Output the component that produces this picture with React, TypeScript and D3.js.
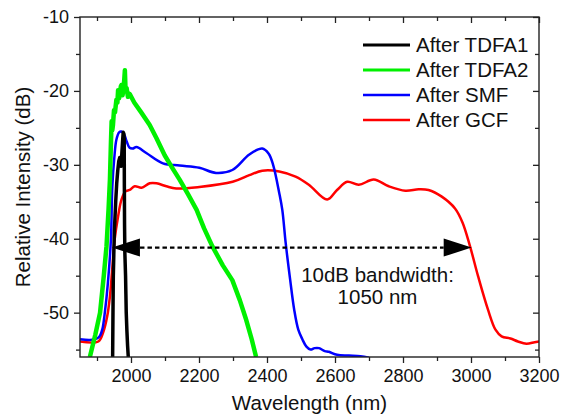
import React, { useRef, useEffect } from "react";
import * as d3 from "d3";

// wavelength (nm), relative intensity (dB)
const tdfa1: [number, number][] = [
  [1946, -56], [1947, -50], [1948, -45], [1951, -39], [1955, -35], [1958, -32.5],
  [1961, -30.8], [1964, -29.5], [1967, -29], [1969, -29.6], [1971, -30.2], [1973, -28.5],
  [1975, -27], [1977, -25.6], [1979, -25.8], [1980, -26.5], [1980.5, -33], [1981, -38],
  [1982, -42], [1984, -45], [1985, -47.5], [1986, -50], [1988, -52.5], [1990, -54.5], [1992, -56],
];

const tdfa2: [number, number][] = [
  [1879, -56], [1895, -53], [1909, -50], [1920, -45], [1928, -41], [1934, -36],
  [1938, -32], [1941, -27], [1943, -24.1], [1945, -25.3], [1947, -24.6], [1950, -22.6],
  [1953, -22.9], [1957, -21.2], [1960, -21.6], [1962, -19.9], [1965, -21], [1967, -20.5],
  [1970, -19.4], [1972, -19.2], [1975, -20.6], [1977, -20.1], [1980, -18.6], [1982, -17.2],
  [1984, -19.9], [1987, -19.6], [1991, -20.8], [1996, -20.4], [2010, -21.6], [2030, -22.9],
  [2055, -24.6], [2075, -26.4], [2099, -28.7], [2120, -30.3], [2143, -32.0], [2168, -34.0],
  [2193, -36.1], [2215, -38.6], [2239, -41.0], [2270, -43.6], [2298, -45.6], [2320, -48.3],
  [2339, -51], [2355, -53.6], [2368, -56],
];

const smf: [number, number][] = [
  [1850, -53.6], [1880, -53.7], [1900, -53.5], [1909, -53.1], [1916, -52.2], [1923, -50],
  [1932, -46], [1941, -40], [1945, -33], [1951, -29], [1957, -26.6], [1965, -25.6],
  [1972, -25.5], [1980, -25.9], [1987, -26.8], [1996, -27.7], [2005, -27.8], [2016, -27.6],
  [2045, -28.4], [2094, -29.8], [2143, -30.1], [2201, -30.4], [2250, -31.1], [2298, -30.7],
  [2348, -28.6], [2386, -27.8], [2405, -28.5], [2418, -30], [2436, -33.8], [2445, -36.1],
  [2455, -40.6], [2468, -45.5], [2480, -49.6], [2492, -52.3], [2504, -53.6], [2516, -54.6],
  [2528, -55.0], [2540, -54.8], [2553, -54.8], [2570, -55.2], [2582, -55.3], [2606, -55.7],
  [2641, -55.8], [2675, -55.9], [2700, -56.1],
];

const gcf: [number, number][] = [
  [1850, -53.9], [1904, -53.9], [1918, -52.7], [1930, -50.5], [1938, -47.8], [1945, -44],
  [1952, -40.1], [1962, -37], [1972, -34.7], [1984, -33.6], [1996, -33.4], [2011, -32.9],
  [2031, -33.1], [2055, -32.5], [2075, -32.5], [2104, -32.9], [2133, -33.2], [2201, -33.0],
  [2299, -32.3], [2348, -31.4], [2386, -30.8], [2436, -30.9], [2484, -31.6], [2523, -32.7],
  [2577, -34.7], [2606, -33.4], [2636, -32.3], [2670, -32.7], [2714, -32.0], [2758, -32.9],
  [2807, -33.5], [2846, -33.3], [2875, -33.4], [2914, -34.3], [2953, -35.9], [2975, -37.8],
  [2997, -41.0], [3021, -45.1], [3050, -49.6], [3072, -52.3], [3090, -53.2], [3116, -53.5],
  [3138, -53.9], [3163, -54.2], [3187, -54.0], [3200, -53.9],
];

const seriesNames = ["After TDFA1", "After TDFA2", "After SMF", "After GCF"];
const seriesColors = ["#000000", "#00f000", "#0000ff", "#ff0000"];

const xMajor = [2000, 2200, 2400, 2600, 2800, 3000, 3200];
const xMinor = [1900, 2100, 2300, 2500, 2700, 2900, 3100];
const yMajor = [-10, -20, -30, -40, -50];
const yMinor = [-15, -25, -35, -45, -55];

const bandwidth = { from: 1944, to: 3002, level: -41.2 };

function App() {
  const svgRef = useRef(null);

  useEffect(() => {
    const width = 562, height = 415;
    const m = { left: 80, right: 23, top: 17, bottom: 58 };
    const font = "'Liberation Sans', Arial, Helvetica, sans-serif";

    const svg = d3.select(svgRef.current);
    svg.selectAll("*").remove();

    const x = d3.scaleLinear().domain([1850, 3200]).range([m.left, width - m.right]);
    const y = d3.scaleLinear().domain([-56, -10]).range([height - m.bottom, m.top]);

    const clipId = "plotclip";
    svg.append("clipPath").attr("id", clipId)
      .append("rect")
      .attr("x", m.left).attr("y", m.top)
      .attr("width", width - m.left - m.right)
      .attr("height", height - m.top - m.bottom);

    const lineSmooth = d3.line<[number, number]>()
      .x(d => x(d[0])).y(d => y(d[1])).curve(d3.curveCatmullRom.alpha(0.5));
    const lineRaw = d3.line<[number, number]>()
      .x(d => x(d[0])).y(d => y(d[1]));

    const g = svg.append("g").attr("clip-path", `url(#${clipId})`);
    g.append("path").datum(gcf).attr("d", lineSmooth)
      .attr("fill", "none").attr("stroke", seriesColors[3]).attr("stroke-width", 2.5);
    g.append("path").datum(smf).attr("d", lineSmooth)
      .attr("fill", "none").attr("stroke", seriesColors[2]).attr("stroke-width", 2.5);
    g.append("path").datum(tdfa2).attr("d", lineRaw)
      .attr("fill", "none").attr("stroke", seriesColors[1]).attr("stroke-width", 4.5)
      .attr("stroke-linejoin", "round");
    g.append("path").datum(tdfa1).attr("d", lineRaw)
      .attr("fill", "none").attr("stroke", seriesColors[0]).attr("stroke-width", 3.5)
      .attr("stroke-linejoin", "round");

    // axes
    const axisColor = "#222";
    const styleAxis = (sel, showText) => {
      sel.select(".domain").remove();
      sel.selectAll("line").attr("stroke", axisColor).attr("stroke-width", 1.3);
      sel.selectAll("text").attr("font-family", font).attr("font-size", 18).attr("fill", "#111");
      if (!showText) sel.selectAll("text").remove();
    };

    const yb = height - m.bottom;
    svg.append("g").attr("transform", `translate(0,${yb})`)
      .call(d3.axisBottom(x).tickValues(xMajor).tickSize(6).tickPadding(6).tickFormat(d3.format("d")))
      .call(s => styleAxis(s, true));
    svg.append("g").attr("transform", `translate(0,${yb})`)
      .call(d3.axisBottom(x).tickValues(xMinor).tickSize(4))
      .call(s => styleAxis(s, false));
    svg.append("g").attr("transform", `translate(0,${m.top})`)
      .call(d3.axisTop(x).tickValues(xMajor).tickSize(-6))
      .call(s => styleAxis(s, false));
    svg.append("g").attr("transform", `translate(0,${m.top})`)
      .call(d3.axisTop(x).tickValues(xMinor).tickSize(-4))
      .call(s => styleAxis(s, false));

    svg.append("g").attr("transform", `translate(${m.left},0)`)
      .call(d3.axisLeft(y).tickValues(yMajor).tickSize(6).tickPadding(5).tickFormat(d => String(d)))
      .call(s => styleAxis(s, true));
    svg.append("g").attr("transform", `translate(${m.left},0)`)
      .call(d3.axisLeft(y).tickValues(yMinor).tickSize(4))
      .call(s => styleAxis(s, false));
    svg.append("g").attr("transform", `translate(${width - m.right},0)`)
      .call(d3.axisRight(y).tickValues(yMajor).tickSize(-6))
      .call(s => styleAxis(s, false));
    svg.append("g").attr("transform", `translate(${width - m.right},0)`)
      .call(d3.axisRight(y).tickValues(yMinor).tickSize(-4))
      .call(s => styleAxis(s, false));

    svg.append("rect")
      .attr("x", m.left).attr("y", m.top)
      .attr("width", width - m.left - m.right)
      .attr("height", height - m.top - m.bottom)
      .attr("fill", "none").attr("stroke", axisColor).attr("stroke-width", 1.4);

    // axis titles
    svg.append("text")
      .attr("x", (m.left + width - m.right) / 2).attr("y", 410)
      .attr("text-anchor", "middle").attr("font-family", font).attr("font-size", 20.5)
      .attr("fill", "#111").text("Wavelength (nm)");
    svg.append("text")
      .attr("transform", `translate(30,${(m.top + yb) / 2}) rotate(-90)`)
      .attr("text-anchor", "middle").attr("font-family", font).attr("font-size", 20.5)
      .attr("fill", "#111").text("Relative Intensity (dB)");

    // 10 dB bandwidth arrow
    const ay = y(bandwidth.level);
    const x1 = x(bandwidth.from), x2 = x(bandwidth.to);
    const headL = 28, headH = 9;
    svg.append("line")
      .attr("x1", x1 + headL).attr("x2", x2 - headL).attr("y1", ay).attr("y2", ay)
      .attr("stroke", "#000").attr("stroke-width", 2.2).attr("stroke-dasharray", "4.5,3");
    svg.append("path")
      .attr("d", `M${x1},${ay}L${x1 + headL},${ay - headH}L${x1 + headL},${ay + headH}Z`)
      .attr("fill", "#000");
    svg.append("path")
      .attr("d", `M${x2},${ay}L${x2 - headL},${ay - headH}L${x2 - headL},${ay + headH}Z`)
      .attr("fill", "#000");

    const note = svg.append("text").attr("font-family", font).attr("font-size", 20.5)
      .attr("fill", "#111").attr("text-anchor", "middle");
    note.append("tspan").attr("x", x(2725)).attr("y", 282).text("10dB bandwidth:");
    note.append("tspan").attr("x", x(2725)).attr("y", 303.5).text("1050 nm");

    // legend
    const legend = svg.append("g");
    seriesNames.forEach((name, i) => {
      const ly = 45 + i * 25;
      legend.append("line")
        .attr("x1", 363).attr("x2", 410).attr("y1", ly).attr("y2", ly)
        .attr("stroke", seriesColors[i]).attr("stroke-width", i < 2 ? 3 : 2.5);
      legend.append("text")
        .attr("x", 416).attr("y", ly + 7)
        .attr("font-family", font).attr("font-size", 20.5).attr("fill", "#111")
        .text(name);
    });

    return () => { svg.selectAll("*").remove(); };
  }, []);

  return (
    <div style={{ position: "absolute", left: 0, top: 0, background: "#fff" }}>
      <svg ref={svgRef} width={562} height={415} />
    </div>
  );
}

export default App;
